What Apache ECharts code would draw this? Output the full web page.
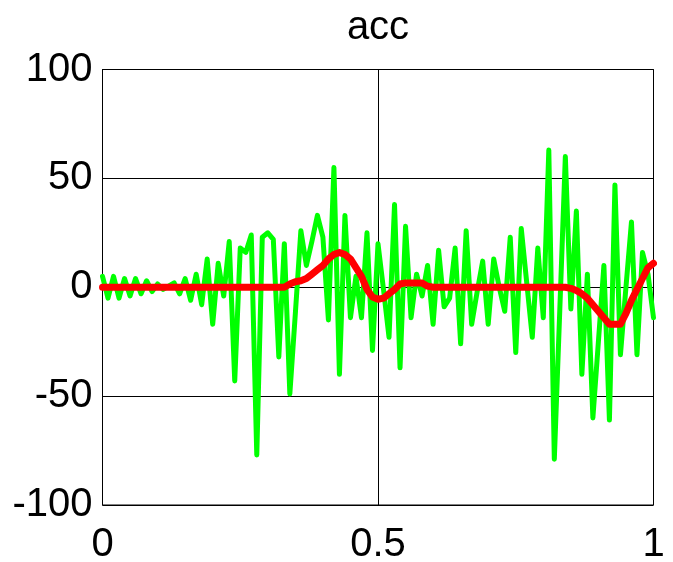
<!DOCTYPE html>
<html>
<head>
<meta charset="utf-8">
<script src="https://cdn.jsdelivr.net/npm/echarts@6/dist/echarts.min.js"></script>
<style>
  html, body { margin: 0; padding: 0; background: #fff; }
  #chart { width: 673px; height: 562px; }
</style>
</head>
<body>
<div id="chart"></div>
<script>
// Sample times: 101 samples over [0, 1]
const sampleCount = 101;
const timeStep = 0.01;

// Raw acceleration signal
const accRaw = [
  5, -5, 5, -5, 4, -4, 4, -3, 3, -2,
  1.5, -1, 0.5, 2, -3, 4, -6, 6, -8, 13,
  -17, 11, -4, 21, -43, 18, 16, 24, -77, 23,
  25, 22, -32, 20, -49, -12, 26, 10, 21, 33,
  23, -15, 55, -40, 33, -14, 5, -14, 25, -29,
  20, -1, -23, 38, -37, 28, -14, 6, -4, 10,
  -17, 17, -9, -5, 18, -26, 26, -17, -2, 12,
  -17, 13, 0, -11, 23, -30, 27, 2, -23, 18,
  -14, 63, -79, -10, 60, -10, 35, -40, 6, -60,
  -25, 10, -61, 47, -31, 0, 30, -31, 16, 6,
  -14
];

// Smoothed acceleration
const accSmooth = [
  0, 0, 0, 0, 0, 0, 0, 0, 0, 0,
  0, 0, 0, 0, 0, 0, 0, 0, 0, 0,
  0, 0, 0, 0, 0, 0, 0, 0, 0, 0,
  0, 0, 0, 0, 1.5, 2.5, 3, 4, 6, 8,
  10, 13, 15, 16, 15, 13, 9, 5, -1, -4.5,
  -5.5, -5, -3, -1, 1.5, 2, 2, 2, 2, 0.5,
  0, 0, 0, 0, 0, 0, 0, 0, 0, 0,
  0, 0, 0, 0, 0, 0, 0, 0, 0, 0,
  0, 0, 0, 0, 0, -0.5, -1.5, -3, -5, -8,
  -11, -14, -17, -17, -17, -12, -6, -1, 4, 9,
  11
];

const xTicks = { min: 0, max: 1, interval: 0.5 };
const yTicks = { min: -100, max: 100, interval: 50 };
const titleText = 'acc';

const times = [];
for (let i = 0; i < sampleCount; i++) times.push(+(i * timeStep).toFixed(2));

const pairs = (ys) => ys.map((v, i) => [times[i], v]);

const chart = echarts.init(document.getElementById('chart'), null, { renderer: 'canvas' });

const font = 'Liberation Sans, Arial, sans-serif';

chart.setOption({
  animation: false,
  backgroundColor: '#ffffff',
  title: {
    text: titleText,
    left: 373,
    top: 3,
    textAlign: 'center',
    textStyle: { fontFamily: font, fontSize: 40, fontWeight: 'normal', color: '#000' }
  },
  grid: {
    left: 102.5, right: 19.5, top: 69.5, bottom: 57,
    outerBoundsMode: 'none',
    containLabel: false,
    show: true, borderColor: '#000', borderWidth: 1, backgroundColor: '#fff'
  },
  xAxis: {
    type: 'value',
    min: xTicks.min, max: xTicks.max, interval: xTicks.interval,
    axisLine: { show: true, lineStyle: { color: '#000', width: 1 } },
    axisTick: { show: false },
    splitLine: { show: true, lineStyle: { color: '#000', width: 1 } },
    axisLabel: { color: '#000', fontFamily: font, fontSize: 40, margin: 20 }
  },
  yAxis: {
    type: 'value',
    min: yTicks.min, max: yTicks.max, interval: yTicks.interval,
    axisLine: { show: true, lineStyle: { color: '#000', width: 1 } },
    axisTick: { show: false },
    splitLine: { show: true, lineStyle: { color: '#000', width: 1 } },
    axisLabel: { color: '#000', fontFamily: font, fontSize: 40, margin: 10 }
  },
  series: [
    {
      name: 'raw',
      type: 'line',
      data: pairs(accRaw),
      showSymbol: false,
      lineStyle: { color: '#00ff00', width: 5, join: 'round', cap: 'round' },
      z: 2
    },
    {
      name: 'smooth',
      type: 'line',
      data: pairs(accSmooth),
      showSymbol: false,
      lineStyle: { color: '#ff0000', width: 7, join: 'round', cap: 'round' },
      z: 3
    }
  ]
});
</script>
</body>
</html>
